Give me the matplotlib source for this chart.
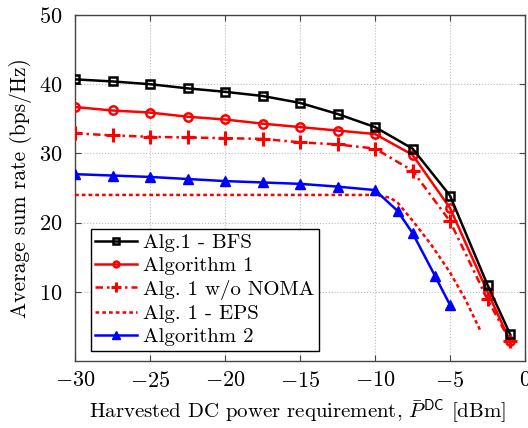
import matplotlib
matplotlib.use("Agg")
import matplotlib.pyplot as plt

plt.rcParams['font.family'] = 'serif'
plt.rcParams['font.serif'] = ['cmr10', 'DejaVu Serif']
plt.rcParams['mathtext.fontset'] = 'cm'
plt.rcParams['axes.formatter.use_mathtext'] = True
plt.rcParams['axes.unicode_minus'] = True

x_main = [-30, -27.5, -25, -22.5, -20, -17.5, -15, -12.5, -10, -7.5, -5, -2.5, -1]
bfs = [40.7, 40.4, 40.0, 39.4, 38.9, 38.3, 37.3, 35.7, 33.8, 30.7, 23.9, 11.0, 3.9]
alg1 = [36.7, 36.2, 35.9, 35.3, 34.9, 34.3, 33.8, 33.3, 32.8, 29.8, 22.1, 10.0, 2.9]
no_noma = [32.9, 32.6, 32.4, 32.3, 32.2, 32.1, 31.6, 31.3, 30.7, 27.5, 20.2, 8.9, 2.9]

x_eps = [-30, -27.5, -25, -22.5, -20, -17.5, -15, -12.5, -10, -9, -8.5, -7.5, -6.25, -5, -4, -3]
eps = [24.0, 24.0, 24.0, 24.0, 24.0, 24.0, 24.0, 24.0, 24.0, 23.6, 22.9, 20.3, 16.8, 12.8, 9.0, 4.5]

x_alg2 = [-30, -27.5, -25, -22.5, -20, -17.5, -15, -12.5, -10, -8.5, -7.5, -6, -5]
alg2 = [27.0, 26.8, 26.6, 26.3, 26.0, 25.8, 25.6, 25.2, 24.7, 21.7, 18.5, 12.3, 8.1]

xticks = [-30, -25, -20, -15, -10, -5, 0]
yticks = [10, 20, 30, 40, 50]

fig = plt.figure(figsize=(5.28, 4.28), dpi=100)
ax = fig.add_axes([75/528, 1 - 361/428, 450/528, 346/428])

lw = 1.8
ax.plot(x_main, bfs, color='black', lw=lw, marker='s', ms=5.5, mfc='none', mew=1.8,
        label='Alg.1 - BFS', zorder=5)
ax.plot(x_main, alg1, color='red', lw=lw, marker='o', ms=6, mfc='none', mew=1.8,
        label='Algorithm 1', zorder=4)
ax.plot(x_main, no_noma, color='red', lw=lw, marker='+', ms=10, mew=2.2,
        dashes=(3, 1.6, 1, 1.6), label='Alg. 1 w/o NOMA', zorder=3)
ax.plot(x_eps, eps, color='red', lw=lw, dashes=(1.5, 1.2), label='Alg. 1 - EPS', zorder=3)
ax.plot(x_alg2, alg2, color='blue', lw=lw, marker='^', ms=7.5, label='Algorithm 2', zorder=4)

ax.set_xlim(-30, 0)
ax.set_ylim(0, 50)
ax.set_xticks(xticks)
ax.set_yticks(yticks)
ax.grid(True, linestyle=':', color='#bbbbbb', lw=0.8)
ax.tick_params(direction='in', top=True, right=True, labelsize=16, length=4, color='#444444')
ax.tick_params(axis='y', pad=9)
ax.tick_params(axis='x', pad=7)
for s in ax.spines.values():
    s.set_color('#444444')
    s.set_linewidth(1.0)

ax.set_xlabel(r'Harvested DC power requirement, $\bar{P}^{\mathsf{DC}}$ [dBm]', fontsize=15)
ax.xaxis.set_label_coords(0.495, -0.105)
ax.set_ylabel('Average sum rate (bps/Hz)', fontsize=15.5, labelpad=5)

leg = ax.legend(loc='lower left', bbox_to_anchor=(0.035, 0.03), fontsize=15, frameon=True,
                fancybox=False, edgecolor='black', framealpha=1, handlelength=2.0,
                labelspacing=0.22, borderpad=0.22, handletextpad=0.3, borderaxespad=0,
                markerscale=0.7)
leg.get_frame().set_linewidth(1.0)

fig.savefig('out.png', dpi=100)
